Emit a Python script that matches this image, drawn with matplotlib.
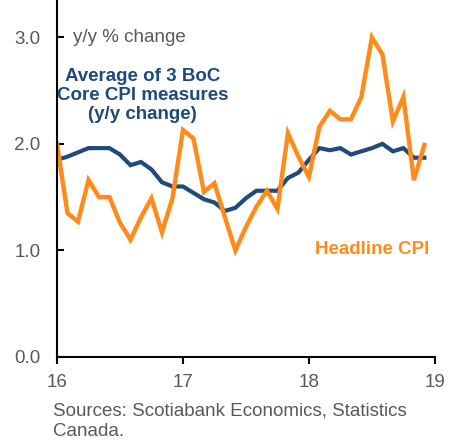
import numpy as np
import matplotlib.pyplot as plt

plt.rcParams['font.family'] = ['Liberation Sans', 'DejaVu Sans']

# Monthly data, Jan 2016 - Dec 2018 (x in years since 2000)
months = 16 + np.arange(36) / 12

headline_cpi = [2.0, 1.35, 1.27, 1.66, 1.5, 1.5, 1.26, 1.1, 1.31, 1.49, 1.17, 1.49,
                2.13, 2.05, 1.55, 1.63, 1.31, 1.0, 1.22, 1.41, 1.56, 1.39, 2.1, 1.88,
                1.69, 2.16, 2.31, 2.23, 2.23, 2.44, 3.0, 2.84, 2.21, 2.44, 1.66, 1.99]

core_avg = [1.85, 1.88, 1.92, 1.96, 1.96, 1.96, 1.9, 1.8, 1.83, 1.76, 1.64, 1.6,
            1.6, 1.54, 1.48, 1.45, 1.37, 1.4, 1.49, 1.56, 1.56, 1.56, 1.68, 1.73,
            1.85, 1.96, 1.94, 1.96, 1.9, 1.93, 1.96, 2.0, 1.93, 1.96, 1.87, 1.87]

x_ticks = [16, 17, 18, 19]
y_ticks = [0, 1, 2, 3]

blue = '#1f4a7c'
orange = '#ff8c1a'
grey = '#595959'

fig = plt.figure(figsize=(4.53, 4.44), dpi=100)
ax = fig.add_axes([0.1258, 0.196, 0.8342, 0.804])

ax.plot(months, core_avg, color=blue, linewidth=3.0, solid_joinstyle='miter')
ax.plot(months, headline_cpi, color=orange, linewidth=3.2, solid_joinstyle='miter')

ax.set_xlim(16, 19)
ax.set_ylim(0, 3.35)
ax.set_xticks(x_ticks)
ax.set_xticklabels([str(t) for t in x_ticks])
ax.set_yticks(y_ticks)
ax.set_yticklabels([f'{t:.1f}' for t in y_ticks])

for side in ['top', 'right']:
    ax.spines[side].set_visible(False)
for side in ['left', 'bottom']:
    ax.spines[side].set_linewidth(1.5)
    ax.spines[side].set_color('black')

ax.tick_params(axis='y', direction='in', length=5, width=1.5, labelsize=13.5,
               labelcolor=grey, pad=12)
ax.tick_params(axis='x', direction='out', length=5, width=1.5, labelsize=13.5,
               labelcolor=grey, pad=7)

# Annotations
ax.text(16.127, 3.0, 'y/y % change', color=grey, fontsize=13.5, va='center', ha='left')
ax.text(16.68, 2.45, 'Average of 3 BoC\nCore CPI measures\n(y/y change)',
        color=blue, fontsize=13.5, fontweight='bold', ha='center', va='center',
        linespacing=1.15)
ax.text(18.5, 1.01, 'Headline CPI', color=orange, fontsize=13.5, fontweight='bold',
        ha='center', va='center')

fig.text(53 / 453, 1 - 421.5 / 444, 'Sources: Scotiabank Economics, Statistics\nCanada.',
         color=grey, fontsize=13.5, ha='left', va='center', linespacing=1.25)

fig.savefig('out.png', dpi=100)
